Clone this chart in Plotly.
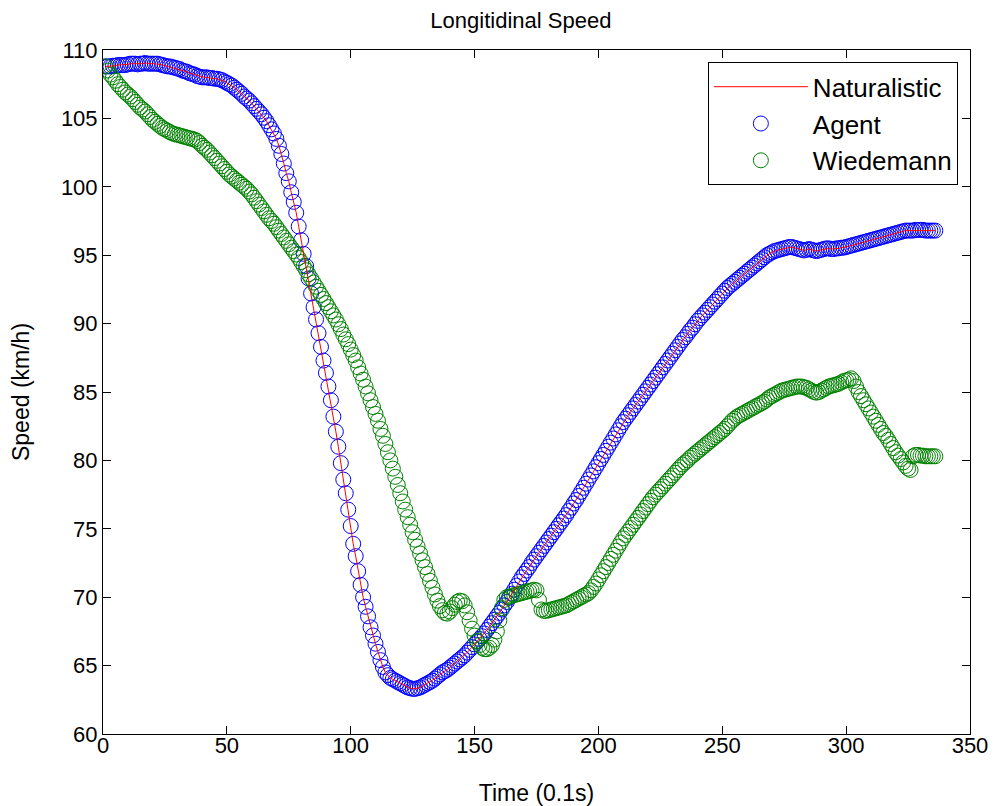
import plotly.graph_objects as go

time_index = list(range(1, 337))

naturalistic_speed = [
    108.8, 108.8, 108.8, 108.85, 108.85, 108.9, 108.9, 108.9, 108.9, 108.95,
    109.0, 109.0, 109.0, 108.95, 109.0, 109.0, 109.05, 109.0, 109.0, 109.0,
    109.0, 109.0, 108.95, 108.9, 108.85, 108.8, 108.8, 108.75, 108.7, 108.65,
    108.6, 108.5, 108.45, 108.4, 108.3, 108.25, 108.2, 108.1, 108.05, 108.0,
    108.0, 108.0, 107.95, 107.95, 107.9, 107.9, 107.85, 107.8, 107.7, 107.6,
    107.5, 107.4, 107.25, 107.1, 106.95, 106.8, 106.6, 106.45, 106.3, 106.1,
    105.9, 105.7, 105.5, 105.3, 105.05, 104.8, 104.5, 104.2, 103.9, 103.5,
    103.0, 102.4, 101.7, 101.0, 100.4, 99.6, 98.9, 98.1, 97.1, 96.1,
    95.1, 94.2, 93.3, 92.2, 91.2, 90.3, 89.3, 88.3, 87.3, 86.4,
    85.4, 84.4, 83.2, 82.1, 81.0, 79.8, 78.6, 77.6, 76.4, 75.2,
    73.9, 73.0, 71.9, 70.9, 70.0, 69.3, 68.6, 67.8, 67.2, 66.6,
    66.0, 65.4, 64.9,
    64.5, 64.3, 64.1, 64.0, 63.9, 63.8, 63.7,
    63.6, 63.5, 63.4, 63.35, 63.3, 63.3, 63.35, 63.4, 63.5, 63.6,
    63.7, 63.8, 63.9, 64.05, 64.2, 64.35, 64.5, 64.6, 64.7, 64.85,
    65.0, 65.15, 65.3, 65.45, 65.6, 65.75, 65.95, 66.15, 66.35, 66.55,
    66.75, 66.95, 67.15, 67.35, 67.6, 67.85, 68.1, 68.35, 68.6, 68.85,
    69.1, 69.4, 69.65, 69.95, 70.25, 70.55, 70.85, 71.15, 71.45, 71.7,
    71.95, 72.2, 72.5, 72.75, 73.0, 73.25, 73.5, 73.75, 74.0, 74.25,
    74.5, 74.75, 75.0, 75.25, 75.5, 75.75, 76.0, 76.3, 76.55, 76.85,
    77.1, 77.4, 77.7, 78.0, 78.3, 78.6, 78.9, 79.2, 79.5, 79.8,
    80.1, 80.4, 80.7, 81.0, 81.3, 81.6, 81.9, 82.2, 82.5, 82.8,
    83.05, 83.3, 83.55, 83.8, 84.05, 84.3, 84.55, 84.8, 85.05, 85.3,
    85.55, 85.8, 86.05, 86.3, 86.55, 86.8, 87.05, 87.3, 87.55, 87.8,
    88.05, 88.3, 88.55, 88.8, 89.0, 89.25, 89.5, 89.7, 89.95, 90.2,
    90.4, 90.6, 90.8, 91.0, 91.2, 91.4, 91.6, 91.8, 92.0, 92.2,
    92.4, 92.6, 92.75, 92.9, 93.05, 93.2, 93.35, 93.5, 93.65, 93.8,
    93.95, 94.1, 94.25, 94.4, 94.55, 94.7, 94.85, 95.0, 95.1, 95.2,
    95.3, 95.35, 95.4, 95.45, 95.5, 95.55, 95.6, 95.6, 95.55, 95.5,
    95.45, 95.4, 95.35, 95.4, 95.45, 95.4, 95.35, 95.3, 95.35, 95.4,
    95.45, 95.5, 95.5, 95.45, 95.45, 95.5, 95.5, 95.55, 95.55, 95.6,
    95.65, 95.7, 95.75, 95.8, 95.85, 95.9, 95.95, 96.0, 96.05, 96.1,
    96.15, 96.2, 96.25, 96.3, 96.35, 96.4, 96.45, 96.5, 96.55, 96.6,
    96.65, 96.7, 96.75, 96.8, 96.8, 96.8, 96.8, 96.85, 96.85, 96.85,
    96.85, 96.8, 96.8, 96.8, 96.8, 96.8,
]

agent_speed = list(naturalistic_speed)

wiedemann_speed = [
    108.8, 108.5, 108.2, 108.0, 107.75, 107.5, 107.3, 107.1, 106.9, 106.75,
    106.6, 106.4, 106.2, 106.0, 105.8, 105.65, 105.5, 105.3, 105.1, 104.9,
    104.75, 104.6, 104.45, 104.3, 104.2, 104.1, 104.0, 103.9, 103.85, 103.8,
    103.75, 103.7, 103.65, 103.6, 103.55, 103.5, 103.45, 103.35, 103.2, 103.0,
    102.85, 102.7, 102.5, 102.3, 102.1, 101.9, 101.7, 101.5, 101.3, 101.1,
    100.9, 100.75, 100.6, 100.45, 100.3, 100.15, 100.0, 99.85, 99.65, 99.45,
    99.2, 98.95, 98.7, 98.45, 98.2, 97.95, 97.7, 97.5, 97.3, 97.05,
    96.8, 96.55, 96.3, 96.05, 95.8, 95.55, 95.3, 95.05, 94.8, 94.5,
    94.2, 93.9, 93.6, 93.3, 93.0, 92.7, 92.4, 92.1, 91.8, 91.5,
    91.2, 90.9, 90.6, 90.3, 89.95, 89.6, 89.2, 88.85, 88.5, 88.1,
    87.7, 87.3, 86.8, 86.35, 85.9, 85.4, 84.9, 84.4, 83.9, 83.4,
    82.9, 82.3, 81.8, 81.2, 80.6, 80.0, 79.4, 78.8, 78.2, 77.6,
    77.0, 76.4, 75.85, 75.3, 74.75, 74.2, 73.7, 73.2, 72.7, 72.2,
    71.7, 71.2, 70.7, 70.2, 69.75, 69.35, 69.05, 68.85, 68.8, 68.95,
    69.2, 69.45, 69.65, 69.75, 69.7, 69.4, 68.9, 68.3, 67.7, 67.2,
    66.8, 66.5, 66.3, 66.2, 66.2, 66.3, 66.5, 66.9, 67.5, 68.3,
    69.2, 69.8, 70.0, 70.05, 70.1, 70.15, 70.2, 70.25, 70.3, 70.35,
    70.4, 70.45, 70.5, 70.55, 70.5, 69.8, 69.1, 69.0, 69.0, 69.05,
    69.1, 69.15, 69.2, 69.25, 69.3, 69.35, 69.4, 69.5, 69.6, 69.7,
    69.8, 69.9, 70.0, 70.1, 70.2, 70.3, 70.5, 70.75, 71.0, 71.3,
    71.6, 71.9, 72.2, 72.5, 72.8, 73.1, 73.4, 73.7, 74.0, 74.3,
    74.55, 74.8, 75.05, 75.3, 75.55, 75.8, 76.05, 76.3, 76.55, 76.8,
    77.05, 77.3, 77.5, 77.7, 77.9, 78.1, 78.3, 78.5, 78.7, 78.9,
    79.1, 79.3, 79.5, 79.7, 79.85, 80.0, 80.2, 80.35, 80.5, 80.65,
    80.8, 80.95, 81.1, 81.25, 81.4, 81.55, 81.7, 81.85, 82.0, 82.15,
    82.3, 82.5, 82.7, 82.9, 83.05, 83.2, 83.3, 83.4, 83.5, 83.6,
    83.7, 83.8, 83.9, 84.0, 84.1, 84.2, 84.3, 84.45, 84.6, 84.7,
    84.8, 84.9, 85.0, 85.1, 85.15, 85.2, 85.25, 85.3, 85.35, 85.4,
    85.4, 85.4, 85.35, 85.3, 85.2, 85.1, 85.0, 84.95, 85.0, 85.1,
    85.2, 85.3, 85.4, 85.45, 85.5, 85.55, 85.6, 85.7, 85.8, 85.85,
    85.9, 86.0, 85.8, 85.4, 85.0, 84.7, 84.4, 84.1, 83.8, 83.5,
    83.2, 82.9, 82.6, 82.3, 82.0, 81.8, 81.5, 81.2, 80.9, 80.6,
    80.35, 80.1, 79.85, 79.6, 79.4, 79.3, 80.3, 80.4, 80.4, 80.35,
    80.35, 80.3, 80.3, 80.3, 80.3, 80.3,
]

x_ticks = [0, 50, 100, 150, 200, 250, 300, 350]
y_ticks = [60, 65, 70, 75, 80, 85, 90, 95, 100, 105, 110]

FONT = "Liberation Sans, Arial, sans-serif"

fig = go.Figure()
fig.add_trace(go.Scatter(
    x=time_index, y=agent_speed, mode="markers", name="Agent", legendrank=2,
    marker=dict(symbol="circle-open", size=15, color="#0000ff", line=dict(width=1, color="#0000ff")),
))
fig.add_trace(go.Scatter(
    x=time_index, y=wiedemann_speed, mode="markers", name="Wiedemann", legendrank=3,
    marker=dict(symbol="circle-open", size=15, color="#008000", line=dict(width=1, color="#008000")),
))
fig.add_trace(go.Scatter(
    x=time_index, y=naturalistic_speed, mode="lines", name="Naturalistic", legendrank=1,
    line=dict(color="#ff0000", width=1),
))

axis_common = dict(
    showline=True, linecolor="black", linewidth=1, mirror="ticks",
    ticks="inside", ticklen=8, tickcolor="black", tickwidth=1,
    showgrid=False, zeroline=False, automargin=False,
    tickfont=dict(family=FONT, size=22, color="black"),
)

# page body has an 8px margin, so the canvas is offset by (8, 8)
fig.update_layout(
    width=997, height=806,
    margin=dict(l=95, r=35, t=42, b=80),
    paper_bgcolor="white", plot_bgcolor="white",
    font=dict(family=FONT, size=22, color="black"),
    title=dict(text="Longitidinal Speed", x=0.482, xref="paper", xanchor="center",
               y=1 - 12 / 806, yref="container", yanchor="middle",
               font=dict(family=FONT, size=22, color="black")),
    xaxis=dict(range=[0, 350], tickvals=x_ticks, ticklabelstandoff=-8,
               title=dict(text="Time (0.1s)", font=dict(family=FONT, size=23), standoff=27),
               **axis_common),
    yaxis=dict(range=[60, 110], tickvals=y_ticks, ticklabelstandoff=0,
               title=dict(text="Speed (km/h)", font=dict(family=FONT, size=23), standoff=25),
               **axis_common),
    legend=dict(x=0.986, y=0.982, xanchor="right", yanchor="top",
                bgcolor="white", bordercolor="black", borderwidth=1,
                font=dict(family=FONT, size=26, color="black"),
                itemwidth=94),
    showlegend=True,
)

fig.write_html("out.html")
